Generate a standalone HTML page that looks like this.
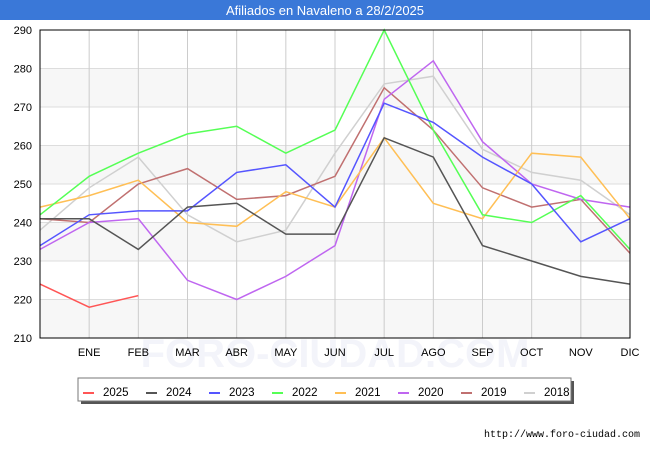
<!DOCTYPE html>
<html><head><meta charset="utf-8"><style>
body{margin:0;width:650px;height:450px;background:#fff;font-family:"Liberation Sans","DejaVu Sans",sans-serif;overflow:hidden}
</style></head><body>
<svg id="c" width="650" height="450" xmlns="http://www.w3.org/2000/svg">
<rect x="0" y="0" width="650" height="20" fill="#3a78d8"/>
<text x="325" y="15" fill="#fff" font-size="13" text-anchor="middle">Afiliados en Navaleno a 28/2/2025</text>
<g id="grid"></g>
<text x="335" y="367" fill="#f3f4fa" font-size="40" text-anchor="middle" font-weight="bold">FORO-CIUDAD.COM</text>
<g id="labels"></g>
<g id="lines"></g>
<rect x="40" y="30" width="590" height="308" fill="none" stroke="#000" stroke-width="1"/>
<g id="legend"></g>
<text x="640" y="437" font-size="10" fill="#000" text-anchor="end" font-family="Liberation Mono, monospace">http://www.foro-ciudad.com</text>
</svg>
<script>
const months = ["", "ENE","FEB","MAR","ABR","MAY","JUN","JUL","AGO","SEP","OCT","NOV","DIC"];
const yTicks = [210,220,230,240,250,260,270,280,290];
const years = ["2025","2024","2023","2022","2021","2020","2019","2018"];
const colors = ["#ff5555","#555555","#5555ff","#55ff55","#ffbf55","#bf66f0","#c07070","#d0d0d0"];
const s2025 = [224,218,221];
const s2024 = [241,241,233,244,245,237,237,262,257,234,230,226,224];
const s2023 = [234,242,243,243,253,255,244,271,266,257,250,235,241];
const s2022 = [242,252,258,263,265,258,264,290,264,242,240,247,233];
const s2021 = [244,247,251,240,239,248,244,262,245,241,258,257,241];
const s2020 = [233,240,241,225,220,226,234,272,282,261,250,246,244];
const s2019 = [241,240,250,254,246,247,252,275,264,249,244,246,232];
const s2018 = [238,249,257,242,235,238,258,276,278,259,253,251,242];
const series = [s2025,s2024,s2023,s2022,s2021,s2020,s2019,s2018];

const NS="http://www.w3.org/2000/svg";
const X0=40,X1=630,Y0=338,Y1=30,YMIN=210,YMAX=290;
function xs(i){return X0+(X1-X0)*i/(months.length-1);}
function ys(v){return Y0-(v-YMIN)*(Y0-Y1)/(YMAX-YMIN);}
function mk(t,a,p){const e=document.createElementNS(NS,t);for(const k in a)e.setAttribute(k,a[k]);p.appendChild(e);return e;}

const g=document.getElementById('grid');
const lb=document.getElementById('labels');
for(let k=0;k<yTicks.length-1;k++){
  if(k%2===0){
    const b=mk('rect',{x:X0,y:ys(yTicks[k+1]),width:X1-X0,height:ys(yTicks[k])-ys(yTicks[k+1]),fill:'#f7f7f7'},g);
    
    
  }
}
yTicks.forEach(v=>{
  const l=mk('line',{x1:X0,x2:X1,y1:ys(v),y2:ys(v),stroke:'#dddddd','stroke-width':1},g);
  
  
  const t=mk('text',{x:X0-8,y:ys(v)+4,'font-size':11,'text-anchor':'end',fill:'#000'},lb);
  t.textContent=v;
  
  
});
months.forEach((m,i)=>{
  if(i===0)return;
  const l=mk('line',{x1:xs(i),x2:xs(i),y1:Y1,y2:Y0,stroke:'#cccccc','stroke-width':1},g);
  
  
  const t=mk('text',{x:xs(i),y:356,'font-size':11,'text-anchor':'middle',fill:'#000'},lb);
  t.textContent=m;
  
  
});

const lg=document.getElementById('lines');
for(let s=series.length-1;s>=0;s--){
  const pts=series[s].map((v,i)=>xs(i).toFixed(1)+','+ys(v).toFixed(1)).join(' ');
  const p=mk('polyline',{points:pts,fill:'none',stroke:colors[s],'stroke-width':1.5},lg);
  
  
}

const L=document.getElementById('legend');
const sh=mk('rect',{x:81,y:381,width:493,height:23,fill:'#555'},L);


const box=mk('rect',{x:78,y:378,width:493,height:23,fill:'#fff',stroke:'#777','stroke-width':1},L);


years.forEach((y,i)=>{
  const sx=83+63*i;
  const r=mk('rect',{x:sx,y:392,width:11,height:2,fill:colors[i]},L);
  
  
  const t=mk('text',{x:sx+20,y:396,'font-size':11.5,fill:'#000'},L);
  t.textContent=y;
  
  
});
</script>
</body></html>
